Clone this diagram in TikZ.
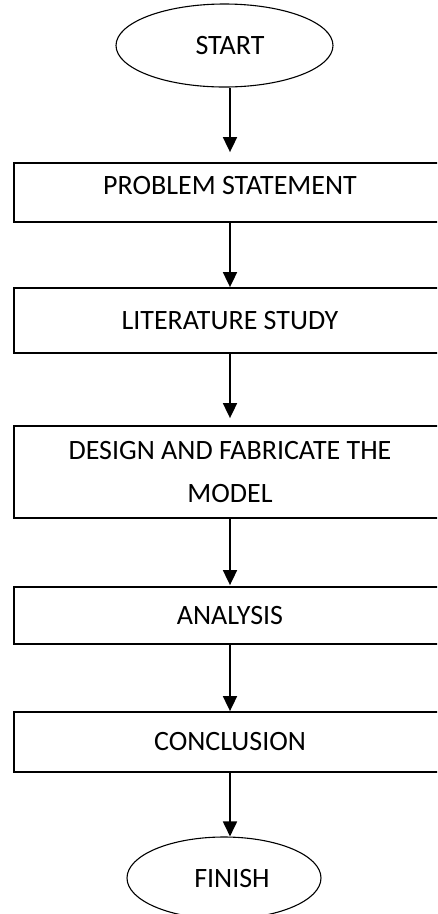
\documentclass[tikz,border=0pt]{standalone}
\usepackage{fontspec}
\setmainfont{Carlito}
\usetikzlibrary{arrows.meta,shapes.geometric}
\tikzset{
  stepbox/.style={draw=black, line width=1.8pt, rectangle, minimum width=432pt, inner sep=0pt,
    font=\fontsize{28}{43}\selectfont, align=center},
  termbox/.style={draw=black, line width=1.1pt, ellipse, inner sep=0pt,
    font=\fontsize{28}{32}\selectfont},
  arr/.style={line width=1.8pt, -{Triangle[length=15pt,width=14pt]}}
}
\begin{document}
\begin{tikzpicture}[x=1pt,y=-1pt]
\useasboundingbox (0,0) rectangle (437,914);
\clip (0,0) rectangle (437,914);
\node[termbox, minimum width=217pt, minimum height=83pt] (start) at (224.5,45.5) {\hspace*{11pt}START};
\node[stepbox, minimum height=59pt, text depth=14pt] (ps) at (230,192.5) {PROBLEM STATEMENT};
\node[stepbox, minimum height=65pt] (lit) at (230,320.5) {LITERATURE STUDY};
\node[stepbox, minimum height=92pt] (des) at (230,472) {DESIGN AND FABRICATE THE\\MODEL};
\node[stepbox, minimum height=57pt] (ana) at (230,615.5) {ANALYSIS};
\node[stepbox, minimum height=60pt] (con) at (230,742) {CONCLUSION};
\node[termbox, minimum width=194pt, minimum height=82pt] (fin) at (224,878) {\hspace*{16pt}FINISH};
\draw[arr, shorten >=10pt] (start.south -| ps.north) -- (ps.north);
\draw[arr] (ps.south) -- (lit.north);
\draw[arr, shorten >=7pt] (lit.south) -- (des.north);
\draw[arr, shorten >=1pt] (des.south) -- (ana.north);
\draw[arr] (ana.south) -- (con.north);
\draw[arr] (con.south) -- (con.south |- fin.north);
\end{tikzpicture}
\end{document}
